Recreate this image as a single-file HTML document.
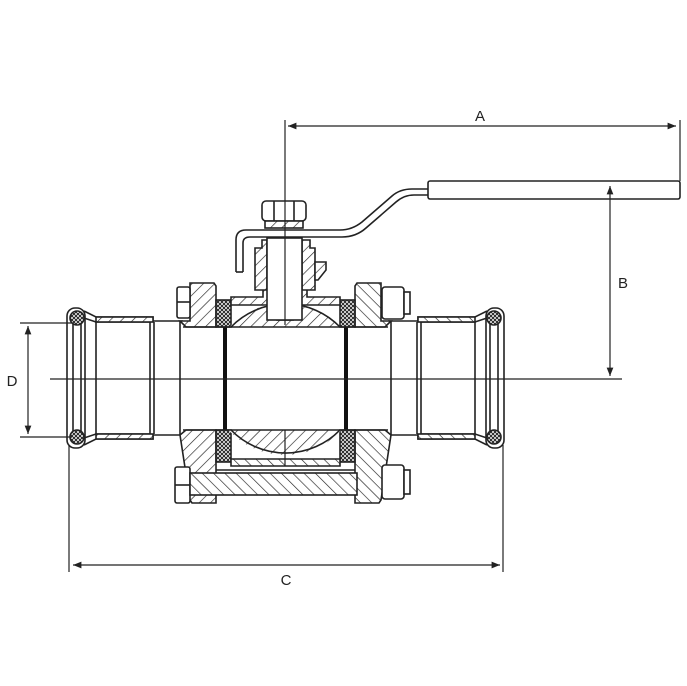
<!DOCTYPE html>
<html><head><meta charset="utf-8"><style>html,body{margin:0;padding:0;background:#fff}svg{display:block}</style></head><body>
<svg width="687" height="686" viewBox="0 0 687 686" xmlns="http://www.w3.org/2000/svg">
<defs>
<pattern id="h" patternUnits="userSpaceOnUse" width="8" height="8" patternTransform="rotate(45)"><rect width="8" height="8" fill="#fff"/><line x1="0" y1="0" x2="0" y2="8" stroke="#222" stroke-width="1.3"/></pattern>
<pattern id="h2" patternUnits="userSpaceOnUse" width="8" height="8" patternTransform="rotate(-45)"><rect width="8" height="8" fill="#fff"/><line x1="0" y1="0" x2="0" y2="8" stroke="#222" stroke-width="1.3"/></pattern>
<pattern id="x" patternUnits="userSpaceOnUse" width="4" height="4"><rect width="4" height="4" fill="#fff"/><path d="M0 0L4 4M4 0L0 4" stroke="#222" stroke-width="1"/></pattern>
<marker id="ar" viewBox="0 0 10 10" refX="10" refY="5" markerWidth="9" markerHeight="7" orient="auto-start-reverse"><path d="M0 1L10 5L0 9z" fill="#222"/></marker>
<clipPath id="ballc"><path d="M150 200H420V327H150z M150 430H420V560H150z"/></clipPath>
<g id="pipe" stroke="#222" stroke-width="1.6" fill="none">
<rect x="67" y="308" width="18" height="140" rx="8" fill="#fff"/>
<line x1="73" y1="317" x2="73" y2="438"/><line x1="81" y1="317" x2="81" y2="438"/>
<circle cx="77" cy="318" r="7" fill="url(#x)"/><circle cx="77" cy="437" r="7" fill="url(#x)"/>
<path d="M84 311L96 317H153V321H183M84 318L96 322H150" />
<path d="M84 445L96 439H153V435H183M84 438L96 434H150"/>
<rect x="96" y="317" width="57" height="5" fill="url(#h)"/><rect x="96" y="434" width="57" height="5" fill="url(#h)"/>
<line x1="96" y1="322" x2="96" y2="434"/><line x1="150" y1="322" x2="150" y2="434"/><line x1="154" y1="322" x2="154" y2="434"/><line x1="180" y1="321" x2="180" y2="435"/>
<path d="M190 283H214L216 286V327H186L180 321H190Z" fill="url(#h)"/>
<path d="M180 435L186 430H216V503H192L190 500Z" fill="url(#h)"/>
<rect x="216" y="300" width="15" height="27" fill="url(#x)"/>
<rect x="216" y="430" width="15" height="32" fill="url(#x)"/>
<rect x="223" y="327" width="4" height="103" fill="#111" stroke="none"/>
</g>
</defs>
<rect width="687" height="686" fill="#fff"/>
<use href="#pipe"/>
<use href="#pipe" transform="translate(571,0) scale(-1,1)"/>
<g stroke="#222" stroke-width="1.6" fill="none">
<!-- left bolt heads -->
<rect x="177" y="287" width="13" height="31" rx="2" fill="#fff"/><line x1="177" y1="302" x2="190" y2="302"/>
<rect x="175" y="467" width="15" height="36" rx="2" fill="#fff"/><line x1="175" y1="485" x2="190" y2="485"/>
<!-- right nuts -->
<rect x="382" y="287" width="22" height="32" rx="3" fill="#fff"/><rect x="404" y="292" width="6" height="22" fill="#fff"/>
<rect x="382" y="465" width="22" height="34" rx="3" fill="#fff"/><rect x="404" y="470" width="6" height="24" fill="#fff"/>
<!-- body -->
<path d="M231 297H263V288H307V297H340V305H231Z" fill="url(#h)"/>
<path d="M231 459H340V466H231Z" fill="url(#h2)"/>
<rect x="190" y="473" width="167" height="22" fill="url(#h2)"/>
<line x1="216" y1="470" x2="355" y2="470"/>
<!-- ball -->
<circle cx="285" cy="379" r="76" fill="url(#h)" clip-path="url(#ballc)" stroke="none"/>
<path d="M231 327A76 76 0 0 1 340 327M231 430A76 76 0 0 0 340 430" clip-path="url(#ballc)"/>
<rect x="277" y="300" width="16" height="20" fill="#fff"/>
<line x1="183" y1="327" x2="388" y2="327"/><line x1="183" y1="430" x2="388" y2="430"/>
<!-- stem housing -->
<path d="M255 290V248H262V240H267V290Z" fill="url(#h)"/>
<path d="M302 290V240H310V248H315V290Z" fill="url(#h)"/>
<path d="M315 262H326V270L318 280H315Z" fill="url(#h)"/>
<rect x="267" y="238" width="35" height="82" fill="#fff"/>
<!-- nut -->
<rect x="262" y="201" width="44" height="20" rx="4" fill="#fff"/>
<line x1="274" y1="201" x2="274" y2="221"/><line x1="294" y1="201" x2="294" y2="221"/>
<rect x="265" y="221" width="38" height="7" fill="url(#h)"/>
<!-- lever -->
<path d="M236 272V240Q236 230 246 230H340Q352 230 362 222L392 196Q400 189 412 189H428"/>
<path d="M243 272V243Q243 237 250 237H342Q356 237 366 228L396 202Q404 195 414 195H428"/>
<line x1="236" y1="272" x2="243" y2="272"/>
<rect x="428" y="181" width="252" height="18" rx="2" fill="#fff"/>
</g>
<g stroke="#222" stroke-width="1.2" fill="none">
<line x1="50" y1="379" x2="622" y2="379"/>
<line x1="285" y1="120" x2="285" y2="325"/>
<line x1="285" y1="430" x2="285" y2="466"/>
<line x1="288" y1="126" x2="676" y2="126" marker-start="url(#ar)" marker-end="url(#ar)"/>
<line x1="680" y1="120" x2="680" y2="181"/>
<line x1="610" y1="186" x2="610" y2="376" marker-start="url(#ar)" marker-end="url(#ar)"/>
<line x1="73" y1="565" x2="500" y2="565" marker-start="url(#ar)" marker-end="url(#ar)"/>
<line x1="69" y1="445" x2="69" y2="572"/><line x1="503" y1="445" x2="503" y2="572"/>
<line x1="28" y1="326" x2="28" y2="434" marker-start="url(#ar)" marker-end="url(#ar)"/>
<line x1="20" y1="323" x2="72" y2="323"/><line x1="20" y1="437" x2="72" y2="437"/>
</g>
<g font-family="Liberation Sans, sans-serif" font-size="15" fill="#222" text-anchor="middle">
<text x="480" y="121">A</text><text x="623" y="288">B</text><text x="286" y="585">C</text><text x="12" y="386">D</text>
</g>
</svg>
</body></html>
